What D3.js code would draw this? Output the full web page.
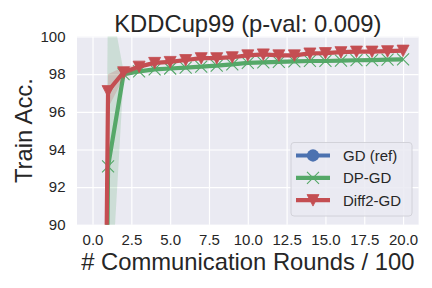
<!doctype html>
<html>
<head>
<meta charset="utf-8">
<script src="https://d3js.org/d3.v7.min.js"></script>
<style>
  body { margin: 0; background: #fff; }
  text { font-family: "Liberation Sans", Arial, sans-serif; fill: #262626; }
</style>
</head>
<body>
<svg width="432" height="288"></svg>
<script>
// rounds / 100
var rounds = [0, 1, 2, 3, 4, 5, 6, 7, 8, 9, 10, 11, 12, 13, 14, 15, 16, 17, 18, 19, 20];

// GD (ref) is not visible inside the plotted range
var gdMean = [];

var dpMean = [10, 93.1, 98.0, 98.15, 98.25, 98.3, 98.35, 98.4, 98.45, 98.52, 98.6,
              98.63, 98.65, 98.68, 98.7, 98.7, 98.72, 98.74, 98.75, 98.77, 98.78];
var dpSd   = [1, 9.5, 0.15, 0.08, 0.08, 0.07, 0.07, 0.07, 0.07, 0.07, 0.07,
              0.07, 0.07, 0.07, 0.07, 0.07, 0.07, 0.07, 0.07, 0.07, 0.07];

var diffMean = [15, 97.1, 98.1, 98.4, 98.6, 98.65, 98.75, 98.85, 98.85, 98.9, 99.0,
                99.05, 99.0, 99.0, 99.1, 99.12, 99.17, 99.2, 99.2, 99.22, 99.25];
var diffSd   = [1, 0.9, 0.3, 0.1, 0.08, 0.08, 0.08, 0.08, 0.08, 0.08, 0.08,
                0.08, 0.08, 0.08, 0.08, 0.08, 0.08, 0.08, 0.08, 0.08, 0.08];

var xTicks = [0, 2.5, 5, 7.5, 10, 12.5, 15, 17.5, 20];
var yTicks = [90, 92, 94, 96, 98, 100];
var legendNames = ["GD (ref)", "DP-GD", "Diff2-GD"];

var C = { blue: "#4C72B0", green: "#55A868", red: "#C44E52" };

var svg = d3.select("svg");
var pL = 77, pR = 418.6, pT = 36.5, pB = 224.8;

var x = d3.scaleLinear().domain([-1, 21]).range([pL, pR]);
var y = d3.scaleLinear().domain([90, 100]).range([pB, pT]);

svg.append("rect").attr("x", pL).attr("y", pT)
    .attr("width", pR - pL).attr("height", pB - pT)
    .attr("fill", "#EAEAF2");

svg.append("defs").append("clipPath").attr("id", "clip")
    .append("rect").attr("x", pL).attr("y", pT)
    .attr("width", pR - pL).attr("height", pB - pT);

// grid
var xAxis = svg.append("g").attr("transform", "translate(0," + pB + ")")
    .call(d3.axisBottom(x).tickValues(xTicks).tickSize(-(pB - pT)).tickPadding(9.5)
        .tickFormat(d3.format(".1f")));
var yAxis = svg.append("g").attr("transform", "translate(" + pL + ",0)")
    .call(d3.axisLeft(y).tickValues(yTicks).tickSize(-(pR - pL)).tickPadding(11.5));
[xAxis, yAxis].forEach(function (g) {
  g.select(".domain").remove();
  g.selectAll(".tick line").attr("stroke", "#fff").attr("stroke-width", 1.2);
  g.selectAll(".tick text").attr("font-size", 15).attr("fill", "#262626")
      .attr("font-family", "Liberation Sans, Arial, sans-serif");
});

var plot = svg.append("g").attr("clip-path", "url(#clip)");

function series(mean, sd, color, marker) {
  var pts = rounds.map(function (r, i) { return { x: r, m: mean[i], s: sd[i] }; });
  plot.append("path").datum(pts)
      .attr("fill", color).attr("fill-opacity", 0.2)
      .attr("d", d3.area().x(function (d) { return x(d.x); })
          .y0(function (d) { return y(d.m - d.s); })
          .y1(function (d) { return y(d.m + d.s); }));
  plot.append("path").datum(pts)
      .attr("fill", "none").attr("stroke", color).attr("stroke-width", 4.2)
      .attr("stroke-linejoin", "round")
      .attr("d", d3.line().x(function (d) { return x(d.x); }).y(function (d) { return y(d.m); }));
  plot.selectAll(null).data(pts).enter().append("path")
      .attr("transform", function (d) { return "translate(" + x(d.x) + "," + y(d.m) + ")"; })
      .call(marker, color);
}

function xMark(sel, color) {
  sel.attr("d", "M-6,-6L6,6M-6,6L6,-6").attr("fill", "none")
      .attr("stroke", color).attr("stroke-width", 1.1);
}
function triMark(sel, color) {
  sel.attr("d", "M0,6L-6,-5.5L6,-5.5Z").attr("fill", color).attr("stroke", color)
      .attr("stroke-width", 0.8);
}
function dotMark(sel, color) {
  sel.attr("d", d3.symbol(d3.symbolCircle, 120)).attr("fill", color);
}

series(dpMean, dpSd, C.green, xMark);
series(diffMean, diffSd, C.red, triMark);

// legend
var lg = svg.append("g");
lg.append("rect").attr("x", 291).attr("y", 142.5).attr("width", 121).attr("height", 73.5)
    .attr("rx", 3).attr("fill", "#EAEAF2").attr("fill-opacity", 0.85)
    .attr("stroke", "#cfcfd6").attr("stroke-width", 0.9);
var lgColors = [C.blue, C.green, C.red];
var lgMarks = [dotMark, xMark, triMark];
legendNames.forEach(function (name, i) {
  var yy = 155.5 + i * 22.3;
  lg.append("line").attr("x1", 296).attr("x2", 330).attr("y1", yy).attr("y2", yy)
      .attr("stroke", lgColors[i]).attr("stroke-width", 4.2);
  lg.append("path").attr("transform", "translate(313," + yy + ")").call(lgMarks[i], lgColors[i]);
  lg.append("text").attr("x", 343).attr("y", yy).attr("dy", "0.36em")
      .attr("font-size", 15).text(name);
});

// titles
svg.append("text").attr("x", (pL + pR) / 2).attr("y", 31.5)
    .attr("text-anchor", "middle").attr("font-size", 23.8).text("KDDCup99 (p-val: 0.009)");
svg.append("text").attr("x", (pL + pR) / 2).attr("y", 269.5)
    .attr("text-anchor", "middle").attr("font-size", 23.8).text("# Communication Rounds / 100");
svg.append("text").attr("transform", "translate(32," + (pT + pB) / 2 + ") rotate(-90)")
    .attr("text-anchor", "middle").attr("font-size", 23.8).text("Train Acc.");
</script>
</body>
</html>
